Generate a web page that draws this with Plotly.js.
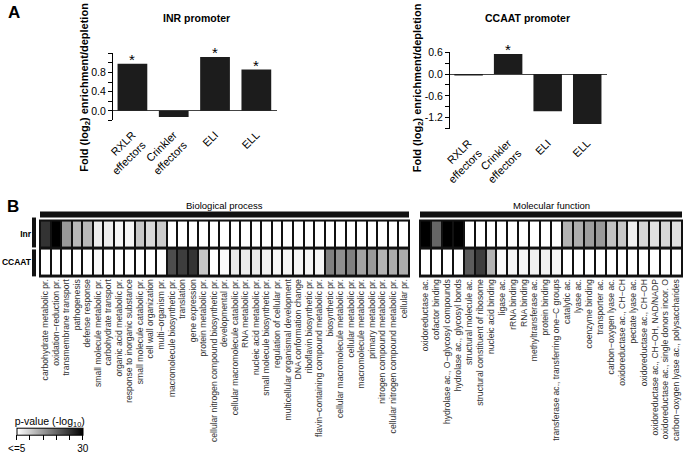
<!DOCTYPE html>
<html>
<head>
<meta charset="utf-8">
<script src="https://cdn.plot.ly/plotly-3.0.1.min.js"></script>
<style>html,body{margin:0;padding:0;background:#fff;}#chart{width:686px;height:454px;}</style>
</head>
<body>
<div id="chart"></div>
<script>
// ---------- Data ----------
const barCats = ['RXLR<br>effectors', 'Crinkler<br>effectors', 'ELI', 'ELL'];
const inrFold = [0.98, -0.13, 1.12, 0.86];
const inrSig = ['*', '', '*', '*'];
const ccaatFold = [-0.04, 0.55, -1.02, -1.37];
const ccaatSig = ['', '*', '', ''];

const rowNames = ['Inr', 'CCAAT'];

const bpTerms = [
  'carbohydrate metabolic pr.', 'oxidation\u2212reduction pr.', 'transmembrane transport', 'pathogenesis',
  'defense response', 'small molecule metabolic pr.', 'carbohydrate transport', 'organic acid metabolic pr.',
  'response to inorganic substance', 'small molecule catabolic pr.', 'cell wall organization', 'multi\u2212organism pr.',
  'macromolecule biosynthetic pr.', 'translation', 'gene expression', 'protein metabolic pr.',
  'cellular nitrogen compound biosynthetic pr.', 'developmental pr.', 'cellular macromolecule catabolic pr.',
  'RNA metabolic pr.', 'nucleic acid metabolic pr.', 'small molecule biosynthetic pr.', 'regulation of cellular pr.',
  'multicellular organismal development', 'DNA conformation change', 'riboflavin biosynthetic pr.',
  'flavin\u2212containing compound metabolic pr.', 'biosynthetic pr.', 'cellular macromolecule metabolic pr.',
  'cellular metabolic pr.', 'macromolecule metabolic pr.', 'primary metabolic pr.',
  'nitrogen compound metabolic pr.', 'cellular nitrogen compound metabolic pr.', 'cellular pr.'
];
const inrBP = [25, 30, 15, 12, 12, 6.75, 6.75, 6, 6, 10.5, 8.75, 10,
  0, 0, 0, 0, 0, 0, 0, 0, 0, 0, 0, 0, 0, 0, 0, 0, 0, 0, 0, 0, 0, 0, 0];
const ccaatBP = [0, 0, 0, 0, 0, 5.5, 0, 0, 0, 0, 0, 0,
  22.5, 24, 25, 10.5, 0,
  5.5, 7, 7, 7, 6.5, 6, 6, 6, 6, 6,
  17.5, 16, 17.5, 14, 15, 12.5, 13, 13];

const mfTerms = [
  'oxidoreductase ac.', 'cofactor binding', 'hydrolase ac., O\u2212glycosyl compounds', 'hydrolase ac., glycosyl bonds',
  'structural molecule ac.', 'structural constituent of ribosome', 'nucleic acid binding', 'ligase ac.',
  'rRNA binding', 'RNA binding', 'methyltransferase ac.', 'protein binding',
  'transferase ac., transferring one\u2212C groups', 'catalytic ac.', 'lyase ac.', 'coenzyme binding',
  'transporter ac.', 'carbon\u2212oxygen lyase ac.', 'oxidoreductase ac., CH\u2212CH', 'pectate lyase ac.',
  'oxidoreductase ac., CH\u2212OH', 'oxidoreductase ac., CH\u2212OH, NAD/NADP',
  'oxidoreductase ac., single donors incor. O', 'carbon\u2212oxygen lyase ac., polysaccharides'
];
const inrMF = [30, 20, 30, 30, 0, 0, 0, 0, 0, 0, 0, 0, 0,
  12.5, 13, 14.5, 15, 11, 10.5, 6.5, 9, 8, 9, 8];
const ccaatMF = [0, 0, 0, 0, 21, 24, 12.5, 5.5, 6, 6, 6.5, 6.5, 6,
  0, 0, 0, 0, 0, 0, 0, 0, 0, 0, 0];

const legendTickVals = [5, 10, 15, 20, 25, 30];
const legendTickText = ['&lt;=5', '', '', '', '', '30'];

// ---------- Helpers (pixel -> paper) ----------
const W = 686, H = 454;
const px = X => X / W;
const py = Y => 1 - Y / H;
const FONT = 'Arial, "Liberation Sans", Helvetica, sans-serif';
const barColor = '#1c1c1c';

const traces = [
  {type: 'bar', x: barCats, y: inrFold, xaxis: 'x', yaxis: 'y', marker: {color: barColor},
   width: 0.72, hoverinfo: 'x+y'},
  {type: 'bar', x: barCats, y: ccaatFold, xaxis: 'x2', yaxis: 'y2', marker: {color: barColor},
   width: 0.72, hoverinfo: 'x+y'},
  {type: 'heatmap', x: bpTerms, y: rowNames, z: [inrBP, ccaatBP], xaxis: 'x3', yaxis: 'y3',
   coloraxis: 'coloraxis', xgap: 2, ygap: 3},
  {type: 'heatmap', x: mfTerms, y: rowNames, z: [inrMF, ccaatMF], xaxis: 'x4', yaxis: 'y4',
   coloraxis: 'coloraxis', xgap: 2, ygap: 3}
];

// significance asterisks from the data arrays
function sigAnnots(cats, vals, sig, xr, yr) {
  const out = [];
  cats.forEach((c, i) => {
    if (sig[i]) out.push({text: sig[i], xref: xr, yref: yr, x: c, y: Math.max(vals[i], 0),
      xanchor: 'center', yanchor: 'bottom', yshift: -6, showarrow: false,
      font: {size: 15, family: FONT, color: '#000'}});
  });
  return out;
}

const barXAxis = (dom, anchor) => ({
  domain: dom, anchor: anchor, type: 'category', range: [-0.47, 3.5],
  showline: false, ticks: '', showgrid: false, zeroline: false, tickangle: -45, ticklabelstandoff: 5,
  tickfont: {size: 11, color: '#000', family: FONT}
});

const hmXAxis = (dom, anchor) => ({
  domain: dom, anchor: anchor, type: 'category', tickangle: -90, ticks: '', showline: false,
  showgrid: false, zeroline: false, tickfont: {size: 8.6, color: '#333', family: FONT}
});

const layout = {
  width: W, height: H, margin: {l: 0, r: 0, t: 0, b: 0},
  paper_bgcolor: '#fff', plot_bgcolor: 'rgba(0,0,0,0)', showlegend: false,
  font: {family: FONT, color: '#000'},
  xaxis: barXAxis([px(113), px(277)], 'y'),
  yaxis: {domain: [py(120.7), py(53.3)], anchor: 'x', range: [-0.2, 1.2],
    tickvals: [-0.2, 0, 0.2, 0.4, 0.6, 0.8, 1.0, 1.2], ticktext: ['', '0.0', '', '0.4', '', '0.8', '', ''],
    ticks: 'outside', ticklen: 4, tickcolor: '#000', showline: true, linecolor: '#000', linewidth: 1,
    showgrid: false, zeroline: true, zerolinecolor: '#444', zerolinewidth: 1,
    tickfont: {size: 10.5, color: '#000', family: FONT}},
  xaxis2: barXAxis([px(450), px(607)], 'y2'),
  yaxis2: {domain: [py(129), py(52.3)], anchor: 'x2', range: [-1.5, 0.6],
    tickvals: [-1.5, -1.2, -0.9, -0.6, -0.3, 0, 0.3, 0.6], ticktext: ['', '-1.2', '', '-0.6', '', '0.0', '', '0.6'],
    ticks: 'outside', ticklen: 4, tickcolor: '#000', showline: true, linecolor: '#000', linewidth: 1,
    showgrid: false, zeroline: true, zerolinecolor: '#444', zerolinewidth: 1,
    tickfont: {size: 10.5, color: '#000', family: FONT}},
  xaxis3: hmXAxis([px(40), px(409)], 'y3'),
  yaxis3: {domain: [py(277), py(221)], anchor: 'x3', type: 'category', autorange: 'reversed',
    ticks: '', showline: false, showgrid: false, zeroline: false, ticklabelstandoff: 8,
    tickfont: {size: 8.5, color: '#000', family: FONT, weight: 'bold'}},
  xaxis4: hmXAxis([px(420), px(682)], 'y4'),
  yaxis4: {domain: [py(277), py(221)], anchor: 'x4', type: 'category', autorange: 'reversed',
    showticklabels: false, ticks: '', showline: false, showgrid: false, zeroline: false},
  coloraxis: {
    cmin: 5, cmax: 30, colorscale: [[0, '#ffffff'], [1, '#000000']],
    colorbar: {
      orientation: 'h', x: px(49.7), xanchor: 'center', y: py(414), yanchor: 'top',
      len: 66, lenmode: 'pixels', thickness: 7, thicknessmode: 'pixels',
      xpad: 0, ypad: 0, outlinewidth: 1, outlinecolor: '#000',
      ticks: 'outside', ticklen: 5, tickcolor: '#000',
      tickvals: legendTickVals, ticktext: legendTickText,
      tickfont: {size: 10, color: '#000', family: FONT},
      title: {text: 'p-value (-log<sub>10</sub>)', side: 'top', font: {size: 10.5, color: '#000', family: FONT}}
    }
  },
  shapes: [
    {type: 'rect', xref: 'x3 domain', yref: 'y3 domain', x0: 0, x1: 1, y0: 0, y1: 1, layer: 'below',
     fillcolor: '#111', line: {color: '#111', width: 2}},
    {type: 'rect', xref: 'x4 domain', yref: 'y4 domain', x0: 0, x1: 1, y0: 0, y1: 1, layer: 'below',
     fillcolor: '#111', line: {color: '#111', width: 2}},
    {type: 'rect', xref: 'x3 domain', yref: 'paper', x0: 0, x1: 1, y0: py(218), y1: py(212),
     fillcolor: '#111', line: {width: 0}},
    {type: 'rect', xref: 'x4 domain', yref: 'paper', x0: 0, x1: 1, y0: py(218), y1: py(212),
     fillcolor: '#111', line: {width: 0}},
    {type: 'rect', xref: 'paper', yref: 'paper', x0: px(32), x1: px(36), y0: py(248), y1: py(218),
     fillcolor: '#111', line: {width: 0}},
    {type: 'rect', xref: 'paper', yref: 'paper', x0: px(32), x1: px(36), y0: py(277), y1: py(250),
     fillcolor: '#111', line: {width: 0}}
  ],
  annotations: [
    {text: '<b>A</b>', xref: 'paper', yref: 'paper', x: px(14), y: py(13), xanchor: 'center', yanchor: 'middle',
     showarrow: false, font: {size: 17, family: FONT}},
    {text: '<b>B</b>', xref: 'paper', yref: 'paper', x: px(13), y: py(207), xanchor: 'center', yanchor: 'middle',
     showarrow: false, font: {size: 17, family: FONT}},
    {text: '<b>INR promoter</b>', xref: 'paper', yref: 'paper', x: px(197), y: py(18), xanchor: 'center',
     yanchor: 'middle', showarrow: false, font: {size: 10.5, family: FONT}},
    {text: '<b>CCAAT promoter</b>', xref: 'paper', yref: 'paper', x: px(527), y: py(18), xanchor: 'center',
     yanchor: 'middle', showarrow: false, font: {size: 10.5, family: FONT}},
    {text: '<b>Fold (log<sub>2</sub>) enrichment/depletion</b>', xref: 'paper', yref: 'paper',
     x: px(85), y: py(88), xanchor: 'center', yanchor: 'middle', textangle: -90, showarrow: false,
     font: {size: 11, family: FONT}},
    {text: '<b>Fold (log<sub>2</sub>) enrichment/depletion</b>', xref: 'paper', yref: 'paper',
     x: px(417.5), y: py(88), xanchor: 'center', yanchor: 'middle', textangle: -90, showarrow: false,
     font: {size: 11, family: FONT}},
    {text: 'Biological process', xref: 'x3 domain', yref: 'paper', x: 0.5, y: py(206), xanchor: 'center',
     yanchor: 'middle', showarrow: false, font: {size: 9.5, family: FONT}},
    {text: 'Molecular function', xref: 'x4 domain', yref: 'paper', x: 0.5, y: py(206), xanchor: 'center',
     yanchor: 'middle', showarrow: false, font: {size: 9.5, family: FONT}}
  ].concat(sigAnnots(barCats, inrFold, inrSig, 'x', 'y'), sigAnnots(barCats, ccaatFold, ccaatSig, 'x2', 'y2'))
};

Plotly.newPlot('chart', traces, layout, {staticPlot: true, displayModeBar: false});
</script>
</body>
</html>
